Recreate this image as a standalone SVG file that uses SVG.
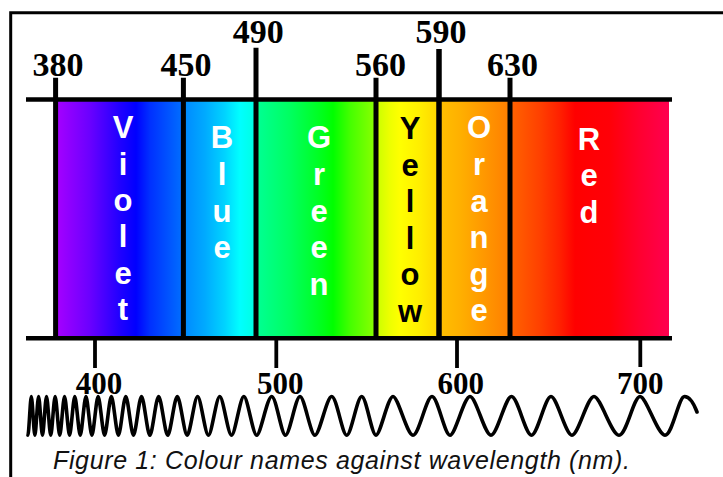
<svg xmlns="http://www.w3.org/2000/svg" width="723" height="477" viewBox="0 0 723 477">
<defs>
<linearGradient id="spec" gradientUnits="userSpaceOnUse" x1="58" y1="0" x2="669" y2="0">
<stop offset="0" stop-color="#a300ff"/>
<stop offset="0.0524" stop-color="#6a00ff"/>
<stop offset="0.1015" stop-color="#2000ff"/>
<stop offset="0.1277" stop-color="#0000ff"/>
<stop offset="0.1506" stop-color="#0030ff"/>
<stop offset="0.2051" stop-color="#0070ff"/>
<stop offset="0.2051" stop-color="#0088ff"/>
<stop offset="0.2406" stop-color="#00aaff"/>
<stop offset="0.2733" stop-color="#00d4ff"/>
<stop offset="0.2979" stop-color="#00ffff"/>
<stop offset="0.3241" stop-color="#00ffe0"/>
<stop offset="0.3241" stop-color="#00ff95"/>
<stop offset="0.3797" stop-color="#00ff60"/>
<stop offset="0.4288" stop-color="#00ff20"/>
<stop offset="0.4501" stop-color="#00ff00"/>
<stop offset="0.4779" stop-color="#44ff00"/>
<stop offset="0.5205" stop-color="#8cff00"/>
<stop offset="0.5205" stop-color="#c8ff00"/>
<stop offset="0.5434" stop-color="#eeff00"/>
<stop offset="0.5597" stop-color="#ffff00"/>
<stop offset="0.5925" stop-color="#ffee00"/>
<stop offset="0.6236" stop-color="#ffd500"/>
<stop offset="0.6236" stop-color="#ffc000"/>
<stop offset="0.6579" stop-color="#ffb000"/>
<stop offset="0.6907" stop-color="#ff9c00"/>
<stop offset="0.7398" stop-color="#ff7e00"/>
<stop offset="0.7398" stop-color="#ff6400"/>
<stop offset="0.7889" stop-color="#ff4000"/>
<stop offset="0.8216" stop-color="#ff2000"/>
<stop offset="0.8462" stop-color="#ff0000"/>
<stop offset="0.9034" stop-color="#ff0008"/>
<stop offset="0.9525" stop-color="#ff0030"/>
<stop offset="1" stop-color="#ff0050"/>
</linearGradient>
</defs>
<style>
.axis{stroke:#000;stroke-width:4.5;fill:none}
.div{stroke:#000;stroke-width:5;fill:none}
.tick{stroke:#000;stroke-width:3.8;fill:none}
.num{font-family:"Liberation Serif","Times New Roman",serif;font-weight:bold;font-size:34px;text-anchor:middle;fill:#000}
.num2{font-family:"Liberation Serif","Times New Roman",serif;font-weight:bold;font-size:31px;text-anchor:middle;fill:#000}
.lab{font-family:"Liberation Sans",Arial,sans-serif;font-weight:bold;font-size:31px;text-anchor:middle;fill:#fff}
.cap{font-family:"Liberation Sans",Arial,sans-serif;font-style:italic;font-size:25px;fill:#111}
</style>
<rect width="723" height="477" fill="#fff"/>
<path d="M10.7,477 V12.8 H723" fill="none" stroke="#000" stroke-width="3"/>
<g id="spectrum">
<rect x="58" y="100" width="611" height="237" fill="url(#spec)"/>
</g>
<g id="axes">
<line class="axis" x1="26" y1="99.5" x2="672" y2="99.5"/>
<line class="axis" x1="26" y1="338.3" x2="672" y2="338.3"/>
</g>
<g id="dividers">
<line class="div" x1="55.6" y1="77.7" x2="55.6" y2="338"/>
<line class="div" x1="183.4" y1="77.7" x2="183.4" y2="338"/>
<line class="div" x1="256" y1="47.7" x2="256" y2="338"/>
<line class="div" x1="376" y1="77.7" x2="376" y2="338"/>
<line class="div" x1="439" y1="49" x2="439" y2="338" style="stroke-width:5.5"/>
<line class="div" x1="510" y1="77.7" x2="510" y2="338"/>
</g>
<g id="top-labels">
<text class="num" x="58" y="76">380</text>
<text class="num" x="186" y="76">450</text>
<text class="num" x="258.3" y="43.3">490</text>
<text class="num" x="380.5" y="76">560</text>
<text class="num" x="441" y="43.3">590</text>
<text class="num" x="512.5" y="76">630</text>
</g>
<g id="violet"><text class="lab"><tspan x="123" y="138.3">V</tspan><tspan x="123" dy="36.3">i</tspan><tspan x="123" dy="36.3">o</tspan><tspan x="123" dy="36.3">l</tspan><tspan x="123" dy="36.3">e</tspan><tspan x="123" dy="36.3">t</tspan></text></g>
<g id="blue"><text class="lab"><tspan x="222" y="148.3">B</tspan><tspan x="222" dy="36.7">l</tspan><tspan x="222" dy="36.7">u</tspan><tspan x="222" dy="36.7">e</tspan></text></g>
<g id="green"><text class="lab"><tspan x="319" y="148.3">G</tspan><tspan x="319" dy="36.7">r</tspan><tspan x="319" dy="36.7">e</tspan><tspan x="319" dy="36.7">e</tspan><tspan x="319" dy="36.7">n</tspan></text></g>
<g id="yellow"><text class="lab" style="fill:#000"><tspan x="410" y="139.3">Y</tspan><tspan x="410" dy="36.5">e</tspan><tspan x="410" dy="36.5">l</tspan><tspan x="410" dy="36.5">l</tspan><tspan x="410" dy="36.5">o</tspan><tspan x="410" dy="36.5">w</tspan></text></g>
<g id="orange"><text class="lab"><tspan x="479" y="138.3">O</tspan><tspan x="479" dy="36.6">r</tspan><tspan x="479" dy="36.6">a</tspan><tspan x="479" dy="36.6">n</tspan><tspan x="479" dy="36.6">g</tspan><tspan x="479" dy="36.6">e</tspan></text></g>
<g id="red"><text class="lab"><tspan x="589" y="150">R</tspan><tspan x="589" dy="36.4">e</tspan><tspan x="589" dy="36.4">d</tspan></text></g>
<g id="bottom-ticks">
<line class="tick" x1="95" y1="340" x2="95" y2="368"/>
<line class="tick" x1="276.3" y1="340" x2="276.3" y2="368"/>
<line class="tick" x1="457" y1="340" x2="457" y2="368"/>
<line class="tick" x1="640.3" y1="340" x2="640.3" y2="367"/>
</g>
<g id="bottom-labels">
<text class="num2" x="99" y="394">400</text>
<text class="num2" x="280.3" y="394">500</text>
<text class="num2" x="460.7" y="394">600</text>
<text class="num2" x="640.3" y="394">700</text>
</g>
<g id="wave">
<path fill="none" stroke="#000" stroke-width="3.6" stroke-linejoin="round" stroke-linecap="round" d="M27.91,435.2 C28.93,435.2 30.30,396.5 31.32,396.5 S33.81,435.2 34.88,435.2 S37.48,396.5 38.60,396.5 S41.31,435.2 42.47,435.2 S45.30,396.5 46.52,396.5 S49.47,435.2 50.74,435.2 S53.83,396.5 55.15,396.5 S58.37,435.2 59.75,435.2 S63.11,396.5 64.55,396.5 S68.06,435.2 69.56,435.2 S73.22,396.5 74.79,396.5 S78.61,435.2 80.25,435.2 S84.24,396.5 85.95,396.5 S90.11,435.2 91.90,435.2 S96.25,396.5 98.11,396.5 S102.65,435.2 104.59,435.2 S109.32,396.5 111.35,396.5 S116.29,435.2 118.41,435.2 S123.57,396.5 125.78,396.5 S131.16,435.2 133.47,435.2 S139.08,396.5 141.49,396.5 S147.36,435.2 149.87,435.2 S155.99,396.5 158.62,396.5 S165.00,435.2 167.74,435.2 S174.41,396.5 177.27,396.5 S184.23,435.2 187.21,435.2 S194.48,396.5 197.59,396.5 S205.17,435.2 208.42,435.2 S216.34,396.5 219.73,396.5 S227.99,435.2 231.53,435.2 S240.15,396.5 243.85,396.5 S252.84,435.2 256.7,435.2 S267.2,396.5 271.7,396.5 S281.36,435.2 285.5,435.2 S295.65,396.5 300,396.5 S310.5,435.2 315,435.2 S326.69,396.5 331.7,396.5 S342.2,435.2 346.7,435.2 S357.2,396.5 361.7,396.5 S371.71,435.2 376,435.2 S387.9,396.5 393,396.5 S407,435.2 413,435.2 S426.3,396.5 432,396.5 S444.6,435.2 450,435.2 S464,396.5 470,396.5 S484.7,435.2 491,435.2 S505.35,396.5 511.5,396.5 S525.5,435.2 531.5,435.2 S545.15,396.5 551,396.5 S565.7,435.2 572,435.2 S587.4,396.5 594,396.5 S611.5,435.2 619,435.2 S633.7,396.5 640,396.5 S657.5,435.2 665,435.2 S678.65,396.5 684.5,396.5 S694,404 697,412"/>
</g>
<g id="caption">
<text class="cap" x="53" y="469.3" textLength="577" lengthAdjust="spacing">Figure 1: Colour names against wavelength (nm).</text>
</g>
</svg>
